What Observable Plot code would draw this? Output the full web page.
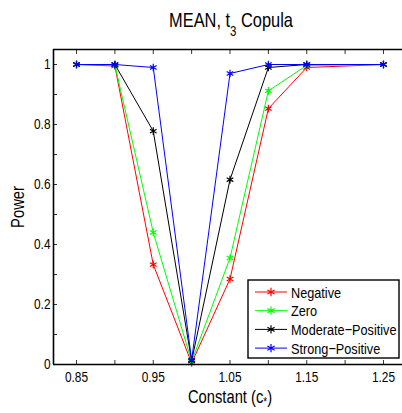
<!DOCTYPE html>
<html><head><meta charset="utf-8">
<script src="https://cdn.jsdelivr.net/npm/d3@7"></script>
<script src="https://cdn.jsdelivr.net/npm/@observablehq/plot@0.6"></script>
<style>
body{margin:0;background:#fff}
#chart{position:relative;width:402px;height:413px;overflow:hidden}
</style>
</head><body><div id="chart"></div>
<script>
const constants = [0.85, 0.90, 0.95, 1.00, 1.05, 1.10, 1.15, 1.25];
const negative = [1.0, 0.995, 0.333, 0.005, 0.285, 0.853, 0.99, 1.0];
const zero = [1.0, 0.998, 0.44, 0.01, 0.355, 0.912, 0.997, 1.0];
const moderatePositive = [1.0, 1.0, 0.778, 0.012, 0.616, 0.99, 1.0, 1.0];
const strongPositive = [1.0, 1.0, 0.99, 0.015, 0.97, 1.0, 1.0, 1.0];
const seriesNames = ["Negative", "Zero", "Moderate\u2212Positive", "Strong\u2212Positive"];
const seriesColors = ["#ff0000", "#00ff00", "#000000", "#0000ff"];
const xTicks = [0.85, 0.90, 0.95, 1.00, 1.05, 1.10, 1.15, 1.20, 1.25];
const xTickLabels = ["0.85", "", "0.95", "", "1.05", "", "1.15", "", "1.25"];
const yTicks = [0, 0.1, 0.2, 0.3, 0.4, 0.5, 0.6, 0.7, 0.8, 0.9, 1.0];
const yTickLabels = ["0", "", "0.2", "", "0.4", "", "0.6", "", "0.8", "", "1"];
const xDomain = [0.82, 1.28];
const yDomain = [0, 1.05];

const seriesValues = [negative, zero, moderatePositive, strongPositive];
const data = seriesNames.flatMap((s, k) => constants.map((c, i) => ({series: s, x: c, y: seriesValues[k][i]})));
const xLab = new Map(xTicks.map((t, i) => [t, xTickLabels[i]]));
const yLab = new Map(yTicks.map((t, i) => [t, yTickLabels[i]]));

const FONT = "'Liberation Sans', Arial, Helvetica, sans-serif";
const SX = 0.82; // narrow glyphs like the reference
const W = 402, H = 413, ML = 53, MT = 49, MB = 49;

const seriesMarks = seriesNames.flatMap(s => [
  Plot.line(data.filter(d => d.series === s), {x: "x", y: "y", stroke: "series", strokeWidth: 1}),
  Plot.dot(data.filter(d => d.series === s), {x: "x", y: "y", stroke: "series", symbol: "asterisk", r: 3.6, strokeWidth: 1.2})
]);

const plot = Plot.plot({
  width: W, height: H,
  marginTop: MT, marginBottom: MB, marginLeft: ML, marginRight: 0,
  style: {fontFamily: FONT, fontSize: "14.5px", background: "white", color: "black"},
  x: {domain: xDomain, range: [ML, 406]},
  y: {domain: yDomain},
  color: {domain: seriesNames, range: seriesColors},
  marks: [
    Plot.axisX({anchor: "bottom", ticks: xTicks, tickSize: -4, tickPadding: 11, tickFormat: d => xLab.get(d) ?? "", label: null, stroke: "#333"}),
    Plot.axisX({anchor: "top", ticks: xTicks, tickSize: -4, tickFormat: () => "", label: null, stroke: "#333"}),
    Plot.axisY({anchor: "left", ticks: yTicks, tickSize: -4, tickPadding: 7, tickFormat: d => yLab.get(d) ?? "", label: null, stroke: "#333"}),
    ...seriesMarks,
    Plot.ruleY([yDomain[0], yDomain[1]], {stroke: "black", strokeWidth: 1.6}),
    Plot.ruleX([xDomain[0]], {stroke: "black", strokeWidth: 1.6})
  ]
});
document.getElementById("chart").appendChild(plot);

const svg = d3.select(plot);
// narrow the tick labels horizontally (scale about each label's anchor point)
svg.selectAll("g[aria-label$='tick label'] text").each(function() {
  const t = d3.select(this);
  const tr = t.attr("transform") || "";
  t.attr("transform", `${tr} scale(${SX},1)`);
});
function addText(x, y, size, anchor, extra = "") {
  return svg.append("text").attr("transform", `translate(${x},${y}) ${extra} scale(${SX},1)`)
    .attr("text-anchor", anchor).style("font-family", FONT).style("font-size", size + "px").attr("fill", "black");
}
// Title
const title = addText(231, 27, 20, "middle");
title.append("tspan").text("MEAN, t");
title.append("tspan").attr("dy", 9).style("font-size", "14px").text("3");
title.append("tspan").attr("dy", -9).text(" Copula");
// X label
const xl = addText(230, 403, 18, "middle");
xl.append("tspan").text("Constant (c");
xl.append("tspan").attr("dy", 3).style("font-size", "12px").text("*");
xl.append("tspan").attr("dy", -3).text(")");
// Y label
addText(24, 207, 18, "middle", "rotate(-90)").text("Power");
// Legend
const lg = svg.append("g");
lg.append("rect").attr("x", 248).attr("y", 280).attr("width", 151).attr("height", 78)
  .attr("fill", "white").attr("stroke", "black").attr("stroke-width", 1.4);
const sym = d3.symbol(d3.symbolAsterisk, 48);
seriesNames.forEach((s, i) => {
  const y = 292 + i * 18.7;
  lg.append("line").attr("x1", 255).attr("x2", 287).attr("y1", y).attr("y2", y).attr("stroke", seriesColors[i]).attr("stroke-width", 1);
  lg.append("path").attr("d", sym()).attr("transform", `translate(271,${y})`).attr("fill", "none").attr("stroke", seriesColors[i]).attr("stroke-width", 1.2);
  addText(291, y + 5.5, 15.5, "start").text(s);
});
</script>
</body></html>
